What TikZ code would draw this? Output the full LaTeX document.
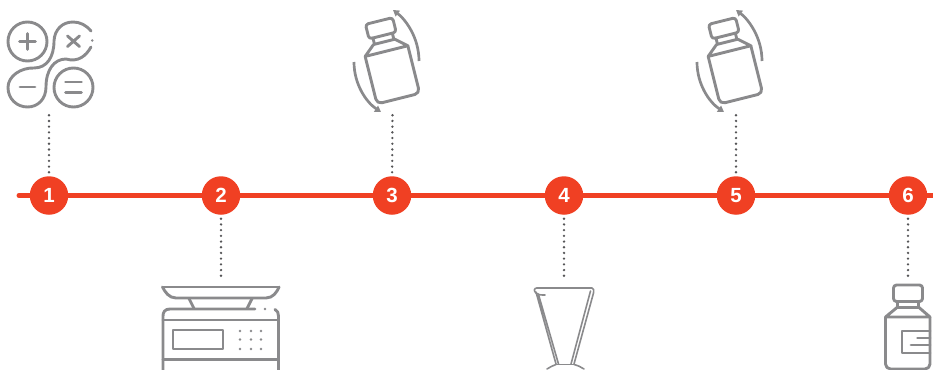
\documentclass[tikz,border=0pt]{standalone}
\usepackage{fontspec}
\setmainfont{Liberation Sans}
\usetikzlibrary{arrows.meta}
\definecolor{icongray}{HTML}{8A8A8C}
\definecolor{accent}{HTML}{F04023}
\definecolor{dotgray}{HTML}{555557}
\tikzset{
  icon/.style={draw=icongray,line width=2.9pt,line cap=round,line join=round},
  thinicon/.style={draw=icongray,line width=1.6pt,line cap=round,line join=round},
  stepcirc/.style={circle,fill=accent,minimum size=38.5pt,inner sep=0pt,outer sep=0pt,text=white,font=\fontsize{20.5}{20.5}\selectfont\bfseries},
  dotline/.style={draw=dotgray,line width=2.6pt,line cap=round,dash pattern=on 0pt off 5.7pt},
  timeline/.style={draw=accent,line width=5pt,line cap=round},
  turn/.style={draw=icongray,line width=2.7pt,-{Triangle[length=6pt,width=7pt]}},
  pics/shaker/.style={code={
    \begin{scope}[rotate=14]
      \draw[icon,rounded corners=3pt] (-14,0) rectangle (14,15);
      \draw[icon] (-10,15) -- (-10,21.5) (10,15) -- (10,21.5) (-11,21.5) -- (11,21.5);
      \draw[icon] (-11,21.5) -- (-22,31) (11,21.5) -- (22,31) (-22,31) -- (22,31);
      \draw[icon,rounded corners=5pt] (-22,31) -- (-22,80) -- (22,80) -- (22,31);
    \end{scope}
    \draw[turn] (40,40) .. controls (40,16) and (26,-2) .. (14,-11);
    \draw[turn] (-25,41) .. controls (-25,63) and (-13,81) .. (2,91);
  }}
}
\begin{document}
\begin{tikzpicture}[x=1pt,y=-1pt]
\useasboundingbox (0,0) rectangle (933,369);
\begin{scope}
\clip (0,0) rectangle (933,369);

% timeline nodes
\coordinate (lineS) at (19,195.5);
\coordinate (lineE) at (940,195.5);
\node[stepcirc] (n1) at (49,195.5) {1};
\node[stepcirc] (n2) at (221,195.5) {2};
\node[stepcirc] (n3) at (392,195.5) {3};
\node[stepcirc] (n4) at (564,195.5) {4};
\node[stepcirc] (n5) at (736,195.5) {5};
\node[stepcirc] (n6) at (908,195.5) {6};
\draw[timeline] (lineS) -- (n1) (n1) -- (n2) (n2) -- (n3) (n3) -- (n4) (n4) -- (n5) (n5) -- (n6) (n6) -- (lineE);

% dotted leaders
\coordinate (d1) at (49,115);
\coordinate (d2) at (221,276);
\coordinate (d3) at (392.5,115);
\coordinate (d4) at (564,276);
\coordinate (d5) at (736,115);
\coordinate (d6) at (908,276);
\foreach \a/\b in {n1/d1,n2/d2,n3/d3,n4/d4,n5/d5,n6/d6}
  \draw[dotline,shorten <=4pt] (\a) -- (\b);

% calculator
\draw[icon] (27.5,41.5) circle (19.5);
\draw[icon] (19.5,41.5) -- (35.5,41.5) (27.5,33.5) -- (27.5,49.5);
\draw[icon] (73.5,87.5) circle (19.5);
\draw[icon] (65.5,82) -- (81.5,82) (65.5,92.5) -- (81.5,92.5);
\draw[icon] (20,87) -- (35,87);
\draw[icon] (67.5,36) -- (79.5,46.5) (79.5,36) -- (67.5,46.5);
\draw[icon] (91,31) .. controls (86,25) and (80,22) .. (73,22)
  .. controls (62,22) and (54.5,30) .. (54,41)
  .. controls (54,57) and (47,68) .. (34,68)
  .. controls (21,67.5) and (8,76) .. (8,87.5)
  .. controls (8,99) and (17,107) .. (27.5,107)
  .. controls (38,107) and (46,99) .. (46,87)
  .. controls (46,70) and (54,59) .. (66,59)
  .. controls (78,62.5) and (86,56) .. (91,47);
\fill[icongray] (92.3,40.5) circle (1.4);

% scale
\draw[icon] (162.5,287) -- (279,287);
\draw[icon] (162.5,287) .. controls (165,292) and (169,298) .. (176,298) -- (266,298) .. controls (273,298) and (277,292) .. (279,287);
\draw[icon] (189,298.5) -- (194,308.5) (252,298.5) -- (247,308.5);
\draw[icon] (255,309) -- (170,309) .. controls (165,309) and (163,312) .. (163,316) -- (163,375);
\draw[icon] (275,309.5) .. controls (277.5,310.5) and (278.5,313) .. (278.5,316) -- (278.5,375);
\fill[icongray] (265,309) circle (1.4);
\draw[icon] (163,320) -- (278.5,320);
\draw[icon] (173,330) rectangle (223,349);
\foreach \px in {240,251,261} \foreach \py in {331,339.5,349}
  \fill[icongray] (\px,\py) circle (1.3);
\draw[icon] (163,359.5) -- (278.5,359.5);

% beaker
\draw[thinicon] (537,288) -- (592,288) .. controls (594,288) and (594,291) .. (593.5,293) -- (574,364);
\draw[thinicon] (590.5,291) -- (571,364);
\draw[thinicon] (537,288) .. controls (534,288) and (533.5,291) .. (536,293) .. controls (538,295) and (541,295) .. (545,295);
\draw[thinicon] (536,292) -- (556,364) (538.5,294.5) -- (558.5,364);
\draw[thinicon] (556,364.5) -- (574,364.5);
\draw[thinicon] (547,369) .. controls (550,367) and (553,365.5) .. (556,364.5);
\draw[thinicon] (584,369) .. controls (581,367) and (578,365.5) .. (574,364.5);

% shaking bottles
\pic at (379,21) {shaker};
\pic at (722,21) {shaker};

% bottle 6
\begin{scope}[shift={(908,285)}]
  \draw[icon,rounded corners=3pt] (-14.5,0) rectangle (14.5,16.5);
  \draw[icon] (-10.5,16.5) -- (-10.5,22.5) (10.5,16.5) -- (10.5,22.5) (-11,22.5) -- (11,22.5);
  \draw[icon] (-11,22.5) -- (-22.5,32) (11,22.5) -- (22,32) (-22.5,32) -- (22,32);
  \draw[icon,rounded corners=5pt] (-22.5,32) -- (-22.5,84) -- (22,84) -- (22,32);
  \draw[icon] (22,46) -- (-6,46) -- (-6,68) -- (22,68);
  \draw[icon] (9.5,53) -- (22,53) (3,60) -- (22,60);
\end{scope}
\end{scope}
\end{tikzpicture}
\end{document}
